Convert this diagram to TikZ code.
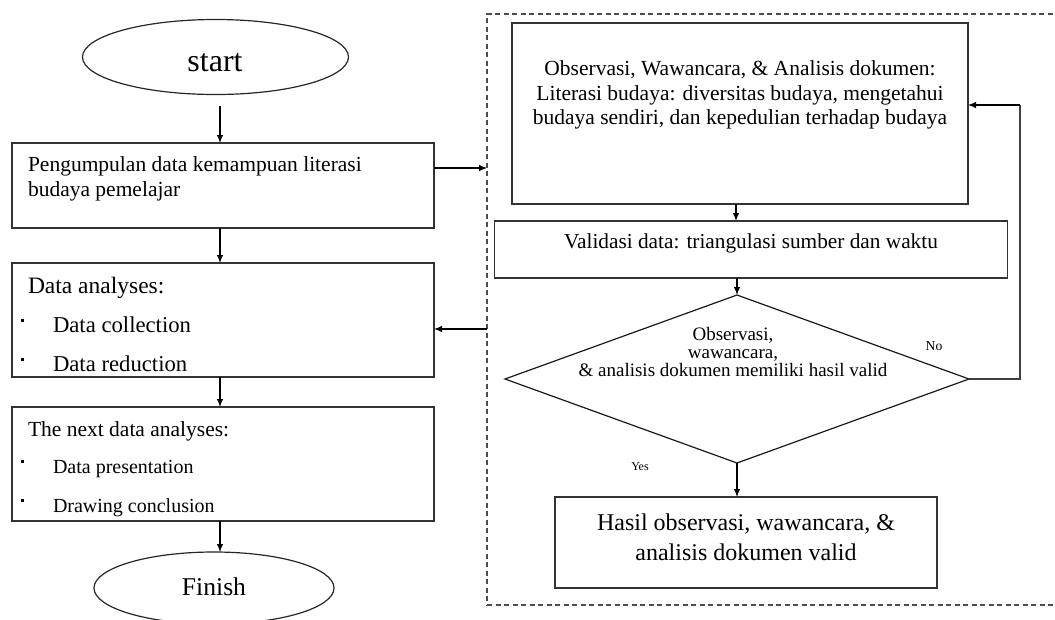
\documentclass[tikz,border=0pt]{standalone}
\usepackage{fontspec}
\setmainfont{Liberation Serif}
\usetikzlibrary{shapes.geometric,arrows.meta}
\begin{document}
\begin{tikzpicture}[x=1pt,y=-1pt,
  boxshape/.style={draw=black!80,line width=1.3pt,rectangle,inner sep=0pt,outer sep=0pt},
  ovalshape/.style={draw=black!85,line width=1.2pt,ellipse,inner sep=0pt,outer sep=0pt},
  diashape/.style={draw=black!90,line width=1.2pt,diamond,inner sep=0pt,outer sep=0pt},
  grpbox/.style={draw=black!70,line width=1.2pt,dash pattern=on 5pt off 3.5pt,rectangle,inner sep=0pt,outer sep=0pt},
  arr/.style={draw=black,line width=1.1pt,-{Latex[length=8pt,width=6.5pt]}},
  plain/.style={draw=black!75,line width=1.4pt},
  txt/.style={inner sep=0pt,outer sep=0pt,align=left},
  ctxt/.style={inner sep=0pt,outer sep=0pt,align=center},
  bulletdot/.style={fill=black,rectangle,inner sep=0pt,minimum size=3pt}
]
\useasboundingbox (0,0) rectangle (1055,619);

% left column
\node[ovalshape,minimum width=266pt,minimum height=75pt] (start) at (215.5,57) {};
\node[txt,anchor=base,font=\fontsize{32}{36}\selectfont] (starttxt) at (215,71) {start};

\node[boxshape,minimum width=422pt,minimum height=85pt] (box1) at (223,185.5) {};
\node[txt,anchor=base west,font=\fontsize{21.5}{25}\selectfont] (b1l1) at (28,171) {Pengumpulan data kemampuan literasi};
\node[txt,anchor=base west,font=\fontsize{21.5}{25}\selectfont] (b1l2) at (28,196) {budaya pemelajar};

\node[boxshape,minimum width=422pt,minimum height=114pt] (box2) at (223,320) {};
\node[txt,anchor=base west,font=\fontsize{23.5}{27}\selectfont] (b2l1) at (28,293) {Data analyses:};
\node[bulletdot] (d1) at (22,320) {};
\node[txt,anchor=base west,font=\fontsize{22.7}{26}\selectfont] (b2l2) at (53,332) {Data collection};
\node[bulletdot] (d2) at (22,359) {};
\node[txt,anchor=base west,font=\fontsize{22.7}{26}\selectfont] (b2l3) at (53,371) {Data reduction};

\node[boxshape,minimum width=422pt,minimum height=114pt] (box3) at (223,464) {};
\node[txt,anchor=base west,font=\fontsize{21.5}{25}\selectfont] (b3l1) at (28,436) {The next data analyses:};
\node[bulletdot] (d3) at (22,461) {};
\node[txt,anchor=base west,font=\fontsize{20}{24}\selectfont] (b3l2) at (53,473) {Data presentation};
\node[bulletdot] (d4) at (22,500) {};
\node[txt,anchor=base west,font=\fontsize{20}{24}\selectfont] (b3l3) at (53,512) {Drawing conclusion};

\node[ovalshape,minimum width=240pt,minimum height=72pt] (finish) at (214,588) {};
\node[txt,anchor=base,font=\fontsize{25.6}{30}\selectfont] (finishtxt) at (214,595) {Finish};

% group
\node[grpbox,minimum width=578pt,minimum height=591pt] (grp) at (776,309.5) {};

% right column
\node[boxshape,minimum width=456pt,minimum height=181pt] (r1) at (740,113.5) {};
\node[ctxt,anchor=base,font=\fontsize{21.5}{24.5}\selectfont] (r1t) at (740,124.5) {Observasi, Wawancara, \& Analisis dokumen:\\Literasi budaya: diversitas budaya, mengetahui\\budaya sendiri, dan kepedulian terhadap budaya};

\node[boxshape,minimum width=513pt,minimum height=57pt] (r2) at (751,249.5) {};
\node[ctxt,anchor=base,font=\fontsize{21.3}{25}\selectfont] (r2t) at (751,248) {Validasi data: triangulasi sumber dan waktu};

\node[diashape,minimum width=464pt,minimum height=168pt] (dia) at (737,379) {};
\node[ctxt,anchor=base,font=\fontsize{19}{18}\selectfont] (diat) at (733,376) {Observasi,\\wawancara,\\\& analisis dokumen memiliki hasil valid};

\node[boxshape,minimum width=382pt,minimum height=91pt] (r4) at (746,542.5) {};
\node[ctxt,anchor=base,font=\fontsize{24}{30}\selectfont] (r4t) at (746,560) {Hasil observasi, wawancara, \&\\analisis dokumen valid};

\node[txt,anchor=base,font=\fontsize{13.6}{16}\selectfont] (no) at (934,350) {No};
\node[txt,anchor=base,font=\fontsize{12}{14}\selectfont] (yes) at (640,470) {Yes};

% connectors left
\coordinate (xl) at (220,0);
\draw[arr] ([yshift=-11pt]start.south -| xl) -- (box1.north -| xl);
\draw[arr] (box1.south -| xl) -- (box2.north -| xl);
\draw[arr] (box2.south -| xl) -- (box3.north -| xl);
\draw[arr] (box3.south -| xl) -- (finish.north -| xl);
\coordinate (ya) at (0,168);
\coordinate (yb) at (0,329);
\draw[arr] (box1.east |- ya) -- (grp.west |- ya);
\draw[arr] (grp.west |- yb) -- (box2.east |- yb);

% connectors right
\coordinate (xa) at (736,0);
\draw[arr] (r1.south -| xa) -- (r2.north -| xa);
\draw[arr] (r2.south -| dia.north) -- (dia.north);
\draw[arr] (dia.south) -- (r4.north -| dia.south);
\coordinate (loopx) at (1020,0);
\coordinate (loopy) at (0,105);
\draw[plain] (dia.east) -- (dia.east -| loopx) -- (loopx |- loopy);
\draw[arr] (loopx |- loopy) -- (r1.east |- loopy);
\end{tikzpicture}
\end{document}
